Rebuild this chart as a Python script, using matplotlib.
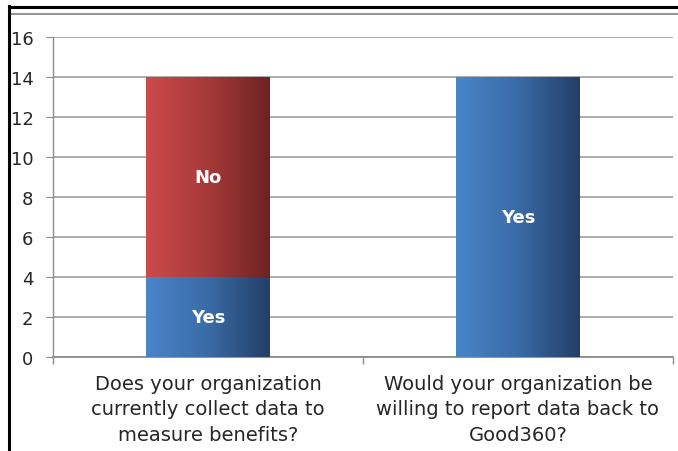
import matplotlib.pyplot as plt
import numpy as np
from matplotlib.colors import LinearSegmentedColormap
from matplotlib.lines import Line2D

categories = ["Does your organization\ncurrently collect data to\nmeasure benefits?",
              "Would your organization be\nwilling to report data back to\nGood360?"]
yes_counts = [4, 14]
no_counts = [10, 0]
y_ticks = [0, 2, 4, 6, 8, 10, 12, 14, 16]

blue_cmap = LinearSegmentedColormap.from_list("blue", ["#4A85CA", "#3A6BA6", "#233F66"])
red_cmap = LinearSegmentedColormap.from_list("red", ["#CB4B49", "#A63A39", "#6C2322"])

plt.rcParams["font.family"] = ["DejaVu Sans"]

fig = plt.figure(figsize=(6.78, 4.52), dpi=100)
ax = fig.add_axes([53 / 678, 1 - 358 / 452, 620 / 678, 320 / 452])

x = np.arange(len(categories))
width = 0.4


def gradient_bars(bars, cmap):
    grad = np.linspace(0, 1, 256).reshape(1, -1)
    for b in bars:
        if b.get_height() <= 0:
            continue
        b.set_facecolor("none")
        x0, y0 = b.get_x(), b.get_y()
        im = ax.imshow(grad, cmap=cmap, aspect="auto", zorder=3,
                       extent=[x0, x0 + b.get_width(), y0, y0 + b.get_height()])
        im.set_clip_path(b)


yes_bars = ax.bar(x, yes_counts, width, zorder=3, linewidth=0)
no_bars = ax.bar(x, no_counts, width, bottom=yes_counts, zorder=3, linewidth=0)
gradient_bars(yes_bars, blue_cmap)
gradient_bars(no_bars, red_cmap)

for i in range(len(categories)):
    ax.text(x[i], yes_counts[i] / 2, "Yes", ha="center", va="center",
            color="white", fontsize=13, fontweight="bold", zorder=4)
    if no_counts[i] > 0:
        ax.text(x[i], yes_counts[i] + no_counts[i] / 2, "No", ha="center",
                va="center", color="white", fontsize=13, fontweight="bold", zorder=4)

ax.set_xlim(-0.5, len(categories) - 0.5)
ax.set_ylim(0, 16)
ax.set_yticks(y_ticks)
ax.set_xticks(x)
ax.set_xticklabels(categories, fontsize=14, color="#262626", linespacing=1.45)
ax.tick_params(axis="x", length=0, pad=12)
ax.tick_params(axis="y", labelsize=13, colors="#262626", length=5, color="#8c8c8c", pad=9)

# category separator ticks below the axis
ax.set_xticks([-0.5, 0.5, 1.5], minor=True)
ax.tick_params(axis="x", which="minor", length=5, color="#8c8c8c", width=1)

ax.grid(axis="y", color="#a6a6a6", linewidth=1.3, zorder=0)
for s in ["top", "right"]:
    ax.spines[s].set_visible(False)
ax.spines["left"].set_color("#8c8c8c")
ax.spines["bottom"].set_color("#8c8c8c")
ax.spines["left"].set_linewidth(1.0)
ax.spines["bottom"].set_linewidth(1.3)

# outer frame
fig.add_artist(Line2D([9 / 678, 1], [1 - 8 / 452, 1 - 8 / 452], color="black", linewidth=2.2))
fig.add_artist(Line2D([9 / 678, 1], [1 - 15 / 452, 1 - 15 / 452], color="#808080", linewidth=1.2))
fig.add_artist(Line2D([9 / 678, 9 / 678], [0, 1 - 7 / 452], color="black", linewidth=2.2))

fig.savefig("out.png", dpi=100)
